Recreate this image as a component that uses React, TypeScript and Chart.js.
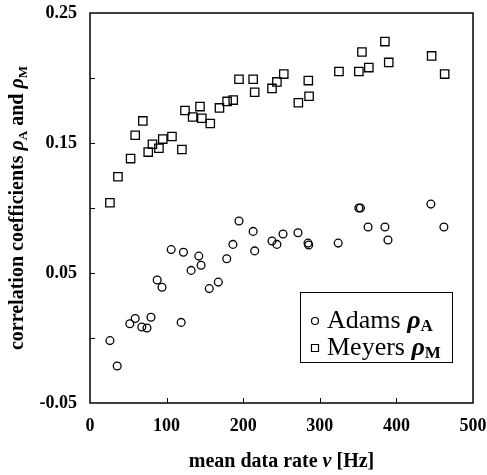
import { useEffect, useRef } from "react";
import { Chart, registerables } from "chart.js";

Chart.register(...registerables);

// Adams correlation coefficient rho_A vs mean data rate
const adamsRate = [26, 35.5, 52, 59, 67.6, 74.4, 79.6, 87.7, 94, 106, 119, 122, 132, 142, 145, 155.7, 167.5, 178.5, 186.6, 194.5, 213, 215, 237.6, 244, 252, 271.5, 284.6, 285.5, 324, 351, 353, 363, 385, 389, 445, 462];
const adamsRho = [-0.002, -0.0215, 0.011, 0.015, 0.0085, 0.0077, 0.016, 0.0446, 0.039, 0.068, 0.012, 0.066, 0.052, 0.063, 0.056, 0.038, 0.043, 0.061, 0.072, 0.09, 0.082, 0.067, 0.0746, 0.072, 0.08, 0.081, 0.073, 0.0715, 0.073, 0.1, 0.1, 0.0854, 0.0854, 0.0754, 0.103, 0.0854];

// Meyers correlation coefficient rho_M vs mean data rate
const meyersRate = [26, 36.5, 53, 59, 69, 76, 81.5, 90, 95, 107, 120, 124, 134, 143.6, 146, 157, 169, 179, 187, 194.5, 213, 215, 237.6, 244, 253, 272, 285, 286, 325, 351, 355, 364, 385, 390, 446, 463];
const meyersRho = [0.104, 0.124, 0.138, 0.156, 0.167, 0.143, 0.149, 0.146, 0.153, 0.155, 0.145, 0.175, 0.17, 0.178, 0.169, 0.165, 0.177, 0.182, 0.183, 0.199, 0.199, 0.189, 0.192, 0.197, 0.203, 0.181, 0.198, 0.186, 0.205, 0.205, 0.22, 0.208, 0.228, 0.212, 0.217, 0.203];

const xMin = 0;
const xMax = 500;
const xStep = 100;
const yMin = -0.05;
const yMax = 0.25;
const yStep = 0.05;

const xTitleParts = ["mean data rate ", "\u03BD", " [Hz]"];
const yTitleParts = ["correlation coefficients ", "\u03C1", "A", " and ", "\u03C1", "M"];
const legendNames = ["Adams ", "Meyers "];
const legendSubs = ["A", "M"];

const SERIF = '"Liberation Serif", "Times New Roman", serif';

const decorPlugin = {
  id: "decor",
  afterDraw(chart: any) {
    const ctx = chart.ctx as CanvasRenderingContext2D;
    const { left, right, top, bottom } = chart.chartArea;
    const xs = chart.scales.x;
    const ys = chart.scales.y;
    ctx.save();
    ctx.strokeStyle = "#000";
    ctx.fillStyle = "#000";
    // frame
    ctx.lineWidth = 1.5;
    ctx.strokeRect(left, top, right - left, bottom - top);
    // inward ticks
    ctx.lineWidth = 1;
    ctx.beginPath();
    for (const t of ys.ticks) {
      if (t.value <= yMin + 1e-9 || t.value >= yMax - 1e-9) continue;
      const py = Math.round(ys.getPixelForValue(t.value)) + 0.5;
      ctx.moveTo(left, py);
      ctx.lineTo(left + 5, py);
    }
    for (const t of xs.ticks) {
      if (t.value <= xMin || t.value >= xMax) continue;
      const px = Math.round(xs.getPixelForValue(t.value)) + 0.5;
      ctx.moveTo(px, bottom);
      ctx.lineTo(px, bottom - 5);
    }
    ctx.stroke();

    // x title
    const xFonts = [`bold 20px ${SERIF}`, `bold italic 20px ${SERIF}`, `bold 20px ${SERIF}`];
    let xTotal = 0;
    const xWidths: number[] = [];
    xTitleParts.forEach((p, i) => {
      ctx.font = xFonts[i];
      const w = ctx.measureText(p).width;
      xWidths.push(w);
      xTotal += w;
    });
    ctx.textAlign = "left";
    ctx.textBaseline = "middle";
    let xx = (left + right) / 2 - xTotal / 2;
    xTitleParts.forEach((p, i) => {
      ctx.font = xFonts[i];
      ctx.fillText(p, xx, bottom + 59);
      xx += xWidths[i];
    });

    // y title (rotated, with subscripts)
    const mainFont = `bold 20px ${SERIF}`;
    const rhoFont = `bold italic 20px ${SERIF}`;
    const subFont = `bold 13px ${SERIF}`;
    const fonts = [mainFont, rhoFont, subFont, mainFont, rhoFont, subFont];
    const offs = [0, 0, 6, 0, 0, 6];
    let total = 0;
    const widths: number[] = [];
    yTitleParts.forEach((p, i) => {
      ctx.font = fonts[i];
      const w = ctx.measureText(p).width;
      widths.push(w);
      total += w;
    });
    ctx.save();
    ctx.translate(18, (top + bottom) / 2);
    ctx.rotate(-Math.PI / 2);
    ctx.textAlign = "left";
    ctx.textBaseline = "middle";
    let cx = -total / 2;
    yTitleParts.forEach((p, i) => {
      ctx.font = fonts[i];
      ctx.fillText(p, cx, offs[i]);
      cx += widths[i];
    });
    ctx.restore();

    // legend box
    const bx = left + 210;
    const by = top + 279;
    const bw = 152;
    const bh = 70;
    ctx.lineWidth = 1;
    ctx.strokeRect(bx + 0.5, by + 0.5, bw, bh);
    ctx.textAlign = "left";
    ctx.textBaseline = "alphabetic";
    for (let i = 0; i < 2; i++) {
      const baseY = by + 36 + i * 27;
      const mx = bx + 15;
      const my = baseY - 7;
      ctx.lineWidth = 1.2;
      ctx.beginPath();
      if (i === 0) {
        ctx.arc(mx, my, 3.5, 0, Math.PI * 2);
      } else {
        ctx.rect(mx - 3.5, my - 3.5, 7, 7);
      }
      ctx.stroke();
      let tx = bx + 27;
      ctx.font = `26px ${SERIF}`;
      ctx.fillText(legendNames[i], tx, baseY);
      tx += ctx.measureText(legendNames[i]).width;
      ctx.font = `bold italic 26px ${SERIF}`;
      ctx.fillText("\u03C1", tx, baseY);
      tx += ctx.measureText("\u03C1").width;
      ctx.font = `bold 17px ${SERIF}`;
      ctx.fillText(legendSubs[i], tx, baseY + 3);
    }
    ctx.restore();
  },
};

export default function App() {
  const ref = useRef<HTMLCanvasElement>(null);
  useEffect(() => {
    const canvas = ref.current!;
    const chart = new Chart(canvas, {
      type: "scatter",
      data: {
        datasets: [
          {
            label: "Adams \u03C1A",
            data: adamsRate.map((x, i) => ({ x, y: adamsRho[i] })),
            pointStyle: "circle",
            pointRadius: 3.9,
            borderColor: "#000",
            backgroundColor: "rgba(0,0,0,0)",
            borderWidth: 1.3,
            showLine: false,
          },
          {
            label: "Meyers \u03C1M",
            data: meyersRate.map((x, i) => ({ x, y: meyersRho[i] })),
            pointStyle: "rect",
            pointRadius: 5.9,
            borderColor: "#000",
            backgroundColor: "rgba(0,0,0,0)",
            borderWidth: 1.3,
            showLine: false,
          },
        ],
      },
      options: {
        responsive: false,
        maintainAspectRatio: false,
        devicePixelRatio: 1,
        animation: false,
        layout: { padding: { left: 0, right: 14, top: 13, bottom: 0 } },
        plugins: { legend: { display: false }, tooltip: { enabled: false } },
        scales: {
          x: {
            type: "linear",
            min: xMin,
            max: xMax,
            grid: { display: false, drawTicks: false },
            border: { display: false },
            ticks: {
              stepSize: xStep,
              autoSkip: false,
              maxRotation: 0,
              padding: 13,
              color: "#000",
              font: { family: SERIF, size: 18, weight: "bold" },
              callback: (v: any) => String(v),
            },
            afterFit: (s: any) => {
              s.height = 72;
              s.paddingLeft = 0;
              s.paddingRight = 0;
            },
          },
          y: {
            type: "linear",
            min: yMin,
            max: yMax,
            grid: { display: false, drawTicks: false },
            border: { display: false },
            ticks: {
              stepSize: yStep,
              autoSkip: false,
              padding: 13,
              color: "#000",
              font: { family: SERIF, size: 18, weight: "bold" },
              callback: (v: any, i: number) => (i % 2 === 0 ? Number(v).toFixed(2) : ""),
            },
            afterFit: (s: any) => {
              s.width = 90;
              s.paddingTop = 0;
              s.paddingBottom = 0;
            },
          },
        },
      },
      plugins: [decorPlugin],
    } as any);
    return () => chart.destroy();
  }, []);
  return (
    <div style={{ position: "fixed", left: 0, top: 0, width: 487, height: 475, background: "#fff" }}>
      <canvas ref={ref} width={487} height={475} style={{ display: "block", width: 487, height: 475 }} />
    </div>
  );
}
